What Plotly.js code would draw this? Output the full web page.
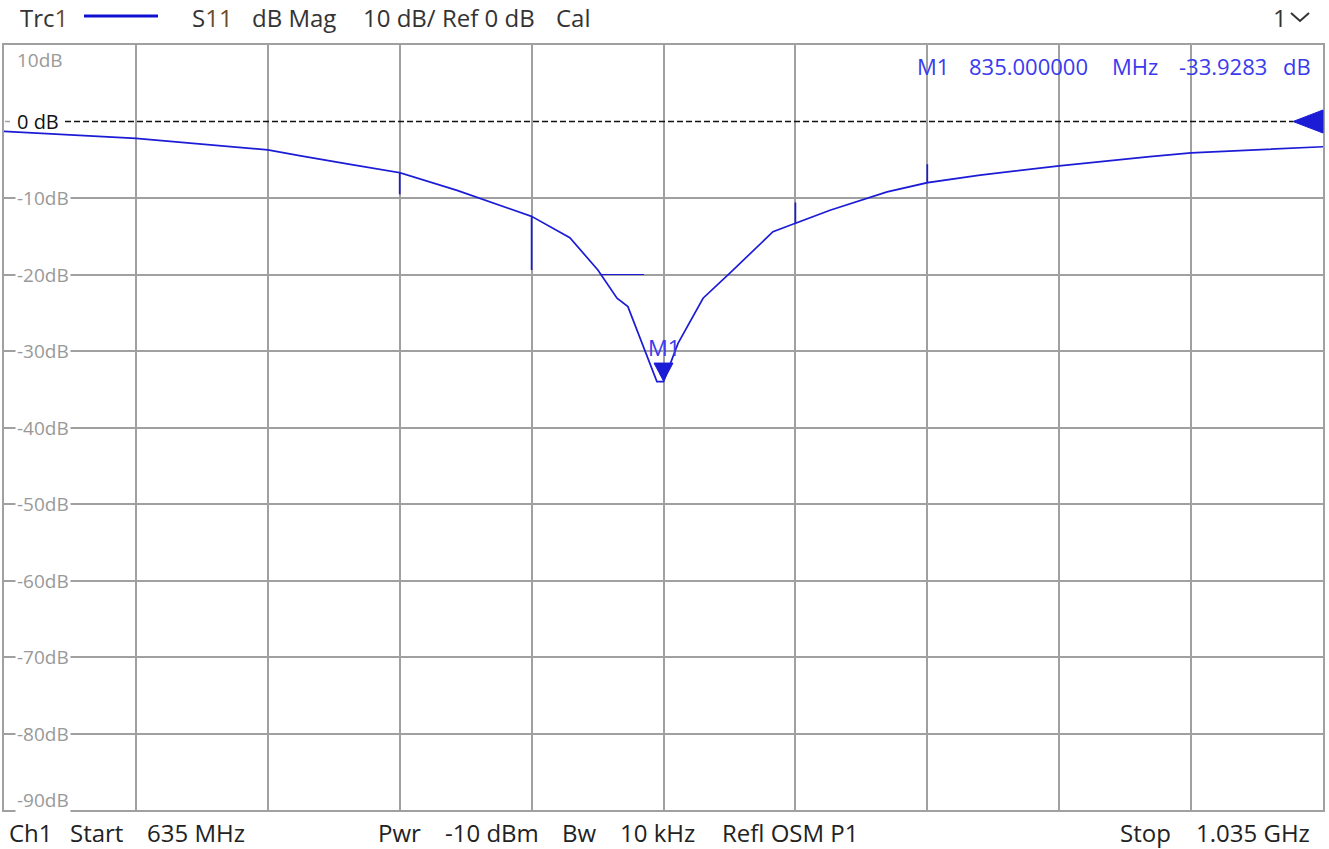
<!DOCTYPE html>
<html><head><meta charset="utf-8">
<script src="https://cdn.plot.ly/plotly-3.0.1.min.js"></script>
<style>html,body{margin:0;padding:0;background:#fff}#chart{width:1329px;height:849px}</style>
</head><body><div id="chart"></div>
<script>
// ---- data ----
const freqMHz = [635, 675, 715, 725, 740, 755, 755, 755, 772.4, 795, 795, 795, 806.6, 815.1, 820.9, 824.2, 833, 835, 839.4, 847, 855.2, 868.2, 875, 875, 875, 885.5, 902.8, 915, 915, 915, 931, 955, 982.5, 995, 1035];
const s11dB   = [-1.3, -2.2, -3.7, -4.5, -5.6, -6.7, -9.5, -6.7, -9.0, -12.4, -19.4, -12.4, -15.2, -19.4, -23.1, -24.2, -34.0, -34.0, -29.0, -23.1, -19.8, -14.4, -13.3, -10.6, -13.3, -11.6, -9.2, -8.0, -5.6, -8.0, -7.0, -5.8, -4.6, -4.1, -3.3];
const flatFreqMHz = [815.7, 829.1];
const flatDb = [-20, -20];
const markerName = 'M1';
const markerFreqMHz = 835;
const markerDb = -33.9283;
const refLevelDb = 0;
const startMHz = 635, stopMHz = 1035;
const yMin = -90, yMax = 10;
const yTickVals = [10, -10, -20, -30, -40, -50, -60, -70, -80, -90];
const yTickText = ['10dB', '-10dB', '-20dB', '-30dB', '-40dB', '-50dB', '-60dB', '-70dB', '-80dB', '-90dB'];
const headerItems = [['Trc<span style="color:#6b4a2a">1</span>', 18, 'left'], ['S<span style="color:#6b4a2a">11</span>', 190, 'left'], ['dB Mag', 250, 'left'], ['10 dB/ Ref 0 dB', 361, 'left'], ['Cal', 554, 'left']];
const footerItems = [['Ch1', 7, 'left'], ['Start', 68, 'left'], ['635 MHz', 145, 'left'], ['Pwr', 376, 'left'], ['-10 dBm', 443, 'left'], ['Bw', 560, 'left'], ['10 kHz', 618, 'left'], ['Refl OSM P1', 720, 'left'], ['Stop', 1118, 'left'], ['1.035 GHz', 1312, 'right']];
const markerInfo = [['M1', 915, 'left'], ['835.000000', 967, 'left'], ['MHz', 1110, 'left'], ['-33.9283', 1177, 'left'], ['dB', 1313, 'right']];

// ---- layout helpers (pixel -> paper) ----
const L = 4, R = 1323, T = 45, B = 810;
const PX = x => (x - L) / (R - L);
const PY = y => (B - y) / (B - T);
const dbPerPx = (yMax - yMin) / (B - T);
const mhzPerPx = (stopMHz - startMHz) / (R - L);

const FONT = 'Open Sans, Noto Sans, sans-serif';
const TRACE = '#1c1cd6';
const MARK = '#3a3aee';
const GRID = '#a0a0a0';

const annotations = [];
yTickVals.forEach((v, i) => {
  const a = {text: yTickText[i], xref: 'paper', x: PX(15), xanchor: 'left', yanchor: 'middle',
    showarrow: false, font: {family: FONT, size: 19, color: '#999999'}, bgcolor: '#ffffff', borderpad: 1};
  if (v === yMax) { a.yref = 'paper'; a.y = PY(60); }
  else if (v === yMin) { a.yref = 'paper'; a.y = PY(800); }
  else { a.yref = 'y'; a.y = v; }
  annotations.push(a);
});
annotations.push({text: '0 dB', xref: 'paper', x: PX(15), yref: 'y', y: refLevelDb, xanchor: 'left', yanchor: 'middle',
  showarrow: false, font: {family: FONT, size: 20, color: '#111'}});
headerItems.forEach(([t, x, a]) => annotations.push({text: t, xref: 'paper', x: PX(x), yref: 'paper', y: PY(18),
  xanchor: a, yanchor: 'middle', showarrow: false, font: {family: FONT, size: 24, color: '#333'}}));
annotations.push({text: '1', xref: 'paper', x: PX(1271), yref: 'paper', y: PY(18), xanchor: 'left', yanchor: 'middle',
  showarrow: false, font: {family: FONT, size: 24, color: '#333'}});
footerItems.forEach(([t, x, a]) => annotations.push({text: t, xref: 'paper', x: PX(x), yref: 'paper', y: PY(833),
  xanchor: a, yanchor: 'middle', showarrow: false, font: {family: FONT, size: 24, color: '#222'}}));
markerInfo.forEach(([t, x, a]) => annotations.push({text: t, xref: 'paper', x: PX(x), yref: 'paper', y: PY(65.5),
  xanchor: a, yanchor: 'middle', showarrow: false, font: {family: FONT, size: 22, color: MARK}}));
annotations.push({text: markerName, x: markerFreqMHz, y: markerDb + 34 * dbPerPx, xref: 'x', yref: 'y',
  xanchor: 'center', yanchor: 'middle', showarrow: false, font: {family: FONT, size: 22, color: MARK}});

const triW = 9.5 * mhzPerPx, triH = 18 * dbPerPx;
const refTriX = PX(1293), refTriH = 11.5 * dbPerPx;
const shapes = [
  {type: 'line', xref: 'paper', yref: 'y', x0: PX(65), x1: PX(1293), y0: refLevelDb, y1: refLevelDb,
   line: {color: '#111', width: 1.3, dash: '6px,3px'}},
  {type: 'line', xref: 'paper', yref: 'y', x0: PX(5), x1: PX(10), y0: refLevelDb, y1: refLevelDb, line: {color: GRID, width: 1.5}},
  {type: 'path', xref: 'paper', yref: 'y', path: `M ${refTriX},${refLevelDb} L 1,${refTriH} L 1,${-refTriH} Z`,
   fillcolor: TRACE, line: {color: TRACE, width: 1}},
  {type: 'path', xref: 'x', yref: 'y',
   path: `M ${markerFreqMHz},${markerDb} L ${markerFreqMHz - triW},${markerDb + triH} L ${markerFreqMHz + triW},${markerDb + triH} Z`,
   fillcolor: TRACE, line: {color: TRACE, width: 1}},
  {type: 'line', xref: 'paper', yref: 'paper', x0: PX(84), x1: PX(158), y0: PY(16), y1: PY(16), line: {color: '#1010d0', width: 3}},
  {type: 'path', xref: 'paper', yref: 'paper', path: `M ${PX(1291)},${PY(13)} L ${PX(1300)},${PY(21)} L ${PX(1309)},${PY(13)}`,
   line: {color: '#333', width: 2}},
];

const traces = [
  {x: freqMHz, y: s11dB, type: 'scatter', mode: 'lines', line: {color: TRACE, width: 1.7}, hoverinfo: 'x+y'},
  {x: flatFreqMHz, y: flatDb, type: 'scatter', mode: 'lines', line: {color: TRACE, width: 1}, hoverinfo: 'skip'},
];

const layout = {
  width: 1329, height: 849, margin: {l: L, r: 1329 - R, t: T, b: 849 - B},
  paper_bgcolor: '#fff', plot_bgcolor: '#fff', showlegend: false,
  xaxis: {range: [startMHz, stopMHz], dtick: 40, tick0: startMHz, showticklabels: false, ticks: '',
    showgrid: true, gridcolor: GRID, gridwidth: 2, zeroline: false, showline: true, mirror: true, linecolor: GRID, linewidth: 2},
  yaxis: {range: [yMin, yMax], tickmode: 'array', tickvals: yTickVals, showticklabels: false, ticks: '',
    showgrid: true, gridcolor: GRID, gridwidth: 2, zeroline: false, showline: true, mirror: true, linecolor: GRID, linewidth: 2},
  annotations, shapes,
};
Plotly.newPlot('chart', traces, layout, {displayModeBar: false, staticPlot: true});
</script></body></html>
